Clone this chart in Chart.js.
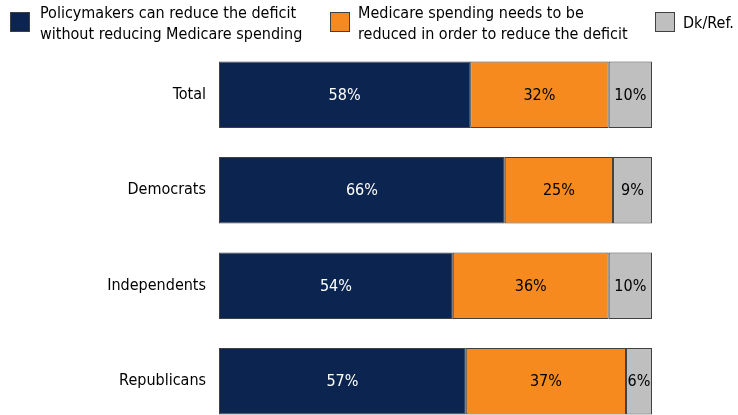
<!DOCTYPE html>
<html>
<head>
<meta charset="utf-8">
<script src="https://cdn.jsdelivr.net/npm/chart.js@4"></script>
<style>
  html, body { margin: 0; padding: 0; background: #fff; overflow: hidden; }
  body { font-family: "DejaVu Sans Condensed", "Liberation Sans Narrow", sans-serif; }
  #box { position: relative; width: 738px; height: 415px; overflow: hidden; }
  #c { position: absolute; left: 0; top: 0; }
  .lg { position: absolute; font-size: 16px; line-height: 21px; color: #000; white-space: nowrap; }
  .sw { position: absolute; width: 18px; height: 18px; border: 1px solid #404040; }
</style>
</head>
<body>
<div id="box">
<canvas id="c" width="738" height="432"></canvas>
<div class="sw" style="left:10px;top:12px;background:#0B2550"></div>
<div class="lg" style="left:40px;top:2px">Policymakers can reduce the deficit<br>without reducing Medicare spending</div>
<div class="sw" style="left:330px;top:12px;background:#F78A1E"></div>
<div class="lg" style="left:358px;top:2px">Medicare spending needs to be<br>reduced in order to reduce the deficit</div>
<div class="sw" style="left:655px;top:12px;background:#BFBFBF"></div>
<div class="lg" style="left:683px;top:12px">Dk/Ref.</div>
</div>
<script>
const groups = ['Total', 'Democrats', 'Independents', 'Republicans'];
const noCut = [58, 66, 54, 57];
const mustCut = [32, 25, 36, 37];
const dkRef = [10, 9, 10, 6];

const seriesNames = [
  'Policymakers can reduce the deficit without reducing Medicare spending',
  'Medicare spending needs to be reduced in order to reduce the deficit',
  'Dk/Ref.'
];
const colors = ['#0B2550', '#F78A1E', '#BFBFBF'];
const textColors = ['#ffffff', '#000000', '#000000'];
const fontFam = '"DejaVu Sans Condensed", "Liberation Sans Narrow", sans-serif';

// percentage label in the middle of each segment
const segLabels = {
  id: 'segLabels',
  afterDatasetsDraw(chart) {
    const ctx = chart.ctx;
    ctx.save();
    ctx.font = '16px ' + fontFam;
    ctx.textAlign = 'center';
    ctx.textBaseline = 'middle';
    chart.data.datasets.forEach((ds, i) => {
      chart.getDatasetMeta(i).data.forEach((bar, j) => {
        ctx.fillStyle = textColors[i];
        ctx.fillText(ds.data[j] + '%', (bar.x + bar.base) / 2, bar.y + 1);
      });
    });
    ctx.restore();
  }
};

const mk = (name, data, i) => ({
  label: name,
  data: data,
  backgroundColor: colors[i],
  borderColor: '#404040',
  borderWidth: 1,
  borderSkipped: false,
  categoryPercentage: 1,
  barPercentage: 0.698
});

new Chart(document.getElementById('c'), {
  type: 'bar',
  data: {
    labels: groups,
    datasets: [mk(seriesNames[0], noCut, 0), mk(seriesNames[1], mustCut, 1), mk(seriesNames[2], dkRef, 2)]
  },
  options: {
    indexAxis: 'y',
    responsive: false,
    animation: false,
    layout: { padding: { top: 47, bottom: 3, left: 0, right: 86 } },
    plugins: { legend: { display: false }, tooltip: { enabled: false } },
    scales: {
      x: { stacked: true, min: 0, max: 100, display: false },
      y: {
        stacked: true,
        grid: { display: false, drawTicks: false },
        border: { display: false },
        ticks: { color: '#000', padding: 13, font: { family: fontFam, size: 16 } },
        afterFit(scale) {
          // fixed axis width, and no extra room for half-labels at the ends
          scale.width = 219;
          scale.paddingTop = 0;
          scale.paddingBottom = 0;
        }
      }
    }
  },
  plugins: [segLabels]
});
</script>
</body>
</html>
